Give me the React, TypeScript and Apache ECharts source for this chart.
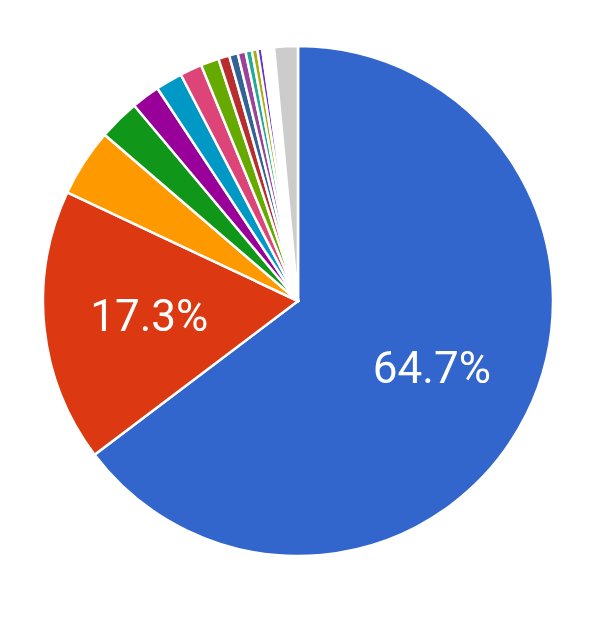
import React, { useEffect, useRef } from "react";
import * as echarts from "echarts";

const categories = [
  "A", "B", "C", "D", "E", "F", "G", "H", "I", "J", "K", "L", "M", "N",
  "O", "P", "Q", "R", "S", "T", "U", "Other",
];
const values = [
  64.7, 17.3, 4.3, 2.6, 1.8, 1.7, 1.4, 1.15, 0.7, 0.55, 0.5, 0.4, 0.35, 0.3,
  0.15, 0.12, 0.1, 0.1, 0.1, 0.08, 0.1, 1.5,
];
const colors = [
  "#3366cc", "#dc3912", "#ff9900", "#109618", "#990099", "#0099c6", "#dd4477",
  "#66aa00", "#b82e2e", "#316395", "#994499", "#22aa99", "#aaaa11", "#6633cc",
  "#e67300", "#8b0707", "#651067", "#329262", "#5574a6", "#3b3eac", "#b77322",
  "#cccccc",
];
const labelled = [0, 1];

export default function App() {
  const ref = useRef<HTMLDivElement>(null);
  useEffect(() => {
    if (!ref.current) return;
    const chart = echarts.init(ref.current, undefined, { renderer: "svg" });
    const data = categories.map((name, i) => ({
      name,
      value: values[i],
      itemStyle: { color: colors[i] },
    }));
    const center = [298, 301];
    chart.setOption({
      animation: false,
      series: [
        {
          type: "pie",
          radius: [0, 255],
          center,
          startAngle: 90,
          clockwise: true,
          percentPrecision: 1,
          avoidLabelOverlap: false,
          silent: true,
          data: data.map((d) => ({ ...d })),
          itemStyle: { borderColor: "#ffffff", borderWidth: 2.5 },
          label: { show: false },
          labelLine: { show: false },
        },
        {
          type: "pie",
          radius: [0, 293],
          center,
          startAngle: 90,
          clockwise: true,
          percentPrecision: 1,
          avoidLabelOverlap: false,
          silent: true,
          data: data.map((d, i) => ({
            name: d.name,
            value: d.value,
            itemStyle: { color: "rgba(0,0,0,0)" },
            label: { show: labelled.includes(i) },
          })),
          itemStyle: { borderWidth: 0 },
          label: {
            position: "inside",
            formatter: "{d}%",
            color: "#ffffff",
            fontSize: 44,
            fontFamily: "Roboto",
          },
          labelLine: { show: false },
        },
      ],
    });
    return () => chart.dispose();
  }, []);
  return (
    <div
      ref={ref}
      style={{ position: "fixed", left: 0, top: 0, width: 608, height: 624 }}
    />
  );
}
